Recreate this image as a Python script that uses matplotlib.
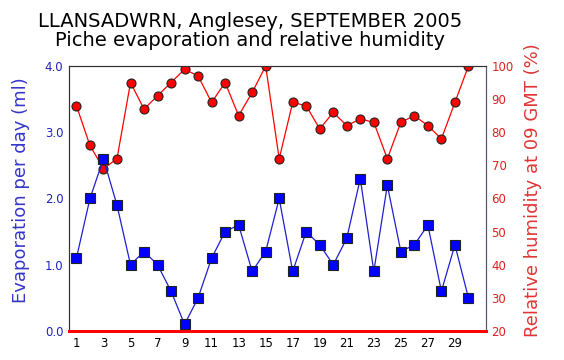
import matplotlib
matplotlib.use("Agg")
import matplotlib.pyplot as plt

# 日付と観測値
days = list(range(1, 31))
evaporation = [1.1, 2.0, 2.6, 1.9, 1.0, 1.2, 1.0, 0.6, 0.1, 0.5,
               1.1, 1.5, 1.6, 0.9, 1.2, 2.0, 0.9, 1.5, 1.3, 1.0,
               1.4, 2.3, 0.9, 2.2, 1.2, 1.3, 1.6, 0.6, 1.3, 0.5]
humidity = [88, 76, 69, 72, 95, 87, 91, 95, 99, 97,
            89, 95, 85, 92, 100, 72, 89, 88, 81, 86,
            82, 84, 83, 72, 83, 85, 82, 78, 89, 100]
x_ticks = list(range(1, 30, 2))
evap_ticks = [0.0, 1.0, 2.0, 3.0, 4.0]
hum_ticks = list(range(20, 101, 10))

title_1 = "LLANSADWRN, Anglesey, SEPTEMBER 2005"
title_2 = "Piche evaporation and relative humidity"

plt.rcParams["font.family"] = ["DejaVu Sans"]

fig = plt.figure(figsize=(5.64, 3.6), dpi=100)
ax = fig.add_axes([69 / 564, 29 / 360, 417 / 564, 265 / 360])
ax2 = ax.twinx()

# 湿度（赤、右軸）
ax2.plot(days, humidity, color="#ff0000", lw=0.9, marker="o", ms=6.5,
         mfc="#ff0000", mec="#222222", mew=0.8, zorder=2)
# 蒸発量（青、左軸）— 前面に描く
ax.set_zorder(ax2.get_zorder() + 1)
ax.patch.set_visible(False)
ax.plot(days, evaporation, color="#1f1fd0", lw=0.9, marker="s", ms=7,
        mfc="#0000ff", mec="#222222", mew=0.8, zorder=3)

ax.set_xlim(0.45, 31.3)
ax.set_ylim(0, 4.0)
ax2.set_ylim(20, 100)

ax.set_xticks(x_ticks)
ax.set_xticklabels([str(d) for d in x_ticks], fontsize=8.5)
ax.set_yticks(evap_ticks)
ax.set_yticklabels([f"{v:.1f}" for v in evap_ticks], fontsize=8.5, color="#2020c0")
ax2.set_yticks(hum_ticks)
ax2.set_yticklabels([str(v) for v in hum_ticks], fontsize=8.5, color="#e02020")
ax.tick_params(axis="both", length=0, pad=4)
ax2.tick_params(axis="y", length=0, pad=4)

ax.set_ylabel("Evaporation per day (ml)", fontsize=13, color="#3535cc", va="center")
ax2.set_ylabel("Relative humidity at 09 GMT (%)", fontsize=13, color="#e03535",
               va="center", rotation=90)
ax.yaxis.set_label_coords(-0.115, 0.532)
ax2.yaxis.set_label_coords(1.113, 0.532)

for a in (ax, ax2):
    a.spines["top"].set_color("#333333")
    a.spines["left"].set_color("#333333")
    a.spines["right"].set_color("#555577")
    a.spines["bottom"].set_color("#ff0000")
    a.spines["bottom"].set_linewidth(2)

# タイトル（2行）
fig.text(250 / 564, 1 - 27 / 360, title_1, ha="center", va="baseline", fontsize=14)
fig.text(250 / 564, 1 - 46 / 360, title_2, ha="center", va="baseline", fontsize=14)

fig.savefig("out.png", dpi=100)
